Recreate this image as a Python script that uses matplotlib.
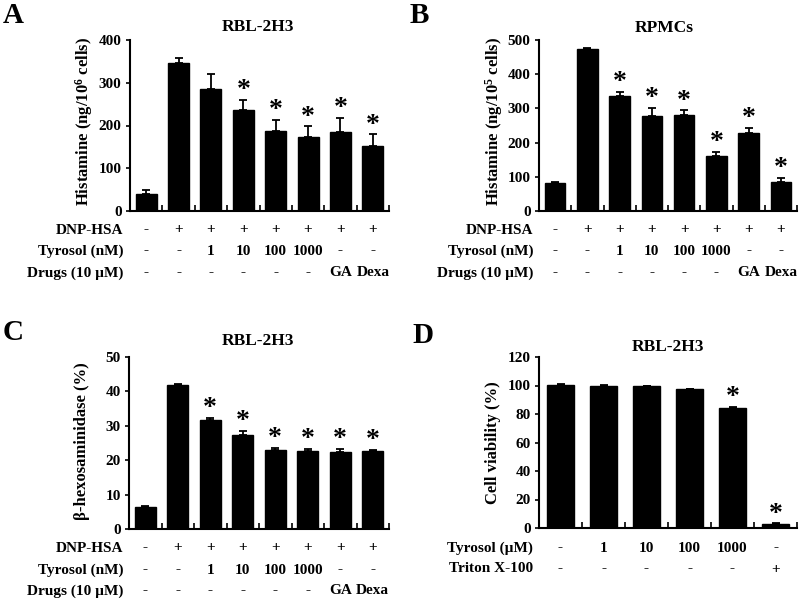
import matplotlib
matplotlib.use("Agg")
import matplotlib.pyplot as plt
import matplotlib.transforms as mtransforms
import numpy as np

plt.rcParams['font.family'] = ['Liberation Serif', 'DejaVu Serif']
plt.rcParams['font.weight'] = 'bold'
plt.rcParams['mathtext.fontset'] = 'custom'
plt.rcParams['mathtext.rm'] = 'Liberation Serif:bold'
plt.rcParams['mathtext.it'] = 'Liberation Serif:bold:italic'
plt.rcParams['mathtext.bf'] = 'Liberation Serif:bold'

# ---- data ----
A_vals = [39, 346, 285, 237, 188, 173, 184, 153]
A_err = [10, 11, 35, 22, 25, 25, 34, 26]
A_sig = [0, 0, 0, 1, 1, 1, 1, 1]

B_vals = [82, 474, 335, 279, 281, 160, 229, 86]
B_err = [2, 2, 13, 22, 13, 13, 14, 10]
B_sig = [0, 0, 1, 1, 1, 1, 1, 1]

C_vals = [6.4, 42.0, 31.6, 27.4, 23.1, 22.6, 22.4, 22.6]
C_err = [0.2, 0.2, 0.7, 1.2, 0.5, 0.8, 0.8, 0.3]
C_sig = [0, 0, 1, 1, 1, 1, 1, 1]

D_vals = [100.5, 99.8, 99.3, 97.5, 84.1, 3.1]
D_err = [0.4, 0.4, 0.5, 0.3, 0.7, 0.2]
D_sig = [0, 0, 0, 0, 1, 1]

dnp_row = ['-', '+', '+', '+', '+', '+', '+', '+']
tyr_nM_row = ['-', '-', '1', '10', '100', '1000', '-', '-']
drugs_row = ['-', '-', '-', '-', '-', '-', 'GA', 'Dexa']
tyr_uM_row = ['-', '1', '10', '100', '1000', '-']
triton_row = ['-', '-', '-', '-', '-', '+']

W, H = 800, 601
fig = plt.figure(figsize=(8, 6.01), dpi=100)


def px_axes(l, r, t, b):
    return fig.add_axes([l / W, 1 - b / H, (r - l) / W, (b - t) / H])


def fy(ypx):
    return 1 - ypx / H


def fx(xpx):
    return xpx / W


def panel(ax, vals, errs, sig, ymax, ystep, width, title, title_xy, ylabel,
          ylabel_xy, letter, letter_xy, rows, row_ys, label_right):
    n = len(vals)
    x = np.arange(n)
    ax.bar(x, vals, width=width, color='black', edgecolor='black', zorder=2)
    ax.errorbar(x, vals, yerr=[np.zeros(n), errs], fmt='none', ecolor='black',
                elinewidth=1.3, capsize=3, capthick=1.3, zorder=3)
    ax.set_xlim(-0.5, n - 0.5)
    ax.set_ylim(0, ymax)
    ax.set_yticks(np.arange(0, ymax + 0.001, ystep))
    ax.set_yticklabels([f"{int(v)}" for v in np.arange(0, ymax + 0.001, ystep)],
                       fontsize=11, fontweight='bold')
    ax.set_xticks(np.arange(-0.5, n, 1.0))
    ax.set_xticklabels([])
    ax.tick_params(axis='x', direction='in', length=4, width=1.2)
    ax.tick_params(axis='y', direction='out', length=3, width=1.2, pad=3)
    for s in ['top', 'right']:
        ax.spines[s].set_visible(False)
    for s in ['left', 'bottom']:
        ax.spines[s].set_linewidth(1.5)
    for i in range(n):
        if sig[i]:
            ax.annotate('*', xy=(x[i], vals[i] + errs[i]), xytext=(0, 2),
                        textcoords='offset points', ha='center', va='baseline',
                        fontsize=20, fontweight='bold')
    fig.text(fx(title_xy[0]), fy(title_xy[1]), title, ha='center', va='baseline',
             fontsize=12.5, fontweight='bold')
    fig.text(fx(ylabel_xy[0]), fy(ylabel_xy[1]), ylabel, ha='center', va='center',
             rotation=90, fontsize=12, fontweight='bold')
    fig.text(fx(letter_xy[0]), fy(letter_xy[1]), letter, ha='left', va='top',
             fontsize=21, fontweight='bold')
    trans = mtransforms.blended_transform_factory(ax.transData, fig.transFigure)
    for (lab, items), ry in zip(rows, row_ys):
        fig.text(fx(label_right), fy(ry), lab, ha='right', va='center',
                 fontsize=11, fontweight='bold')
        for i, it in enumerate(items):
            ax.text(x[i], fy(ry), it, transform=trans, ha='center', va='center',
                    fontsize=11, fontweight='bold')


axA = px_axes(130, 389, 40, 211)
panel(axA, A_vals, A_err, A_sig, 400, 100, 0.65, 'RBL-2H3', (258, 31),
      'Histamine (ng/10$^{6}$ cells)', (84, 121), 'A', (3, 2),
      [('DNP-HSA', dnp_row), ('Tyrosol (nM)', tyr_nM_row), ('Drugs (10 µM)', drugs_row)],
      [230, 251, 273], 123)

axB = px_axes(539, 797, 40, 211)
panel(axB, B_vals, B_err, B_sig, 500, 100, 0.63, 'RPMCs', (664, 32),
      'Histamine (ng/10$^{5}$ cells)', (494, 121), 'B', (410, 2),
      [('DNP-HSA', dnp_row), ('Tyrosol (nM)', tyr_nM_row), ('Drugs (10 µM)', drugs_row)],
      [230, 251, 273], 533)

axC = px_axes(129, 389, 357, 529)
panel(axC, C_vals, C_err, C_sig, 50, 10, 0.65, 'RBL-2H3', (258, 345),
      'β-hexosaminidase (%)', (82, 441), 'C', (3, 319),
      [('DNP-HSA', dnp_row), ('Tyrosol (nM)', tyr_nM_row), ('Drugs (10 µM)', drugs_row)],
      [548, 570, 591], 123)

axD = px_axes(539, 797, 357, 528)
panel(axD, D_vals, D_err, D_sig, 120, 20, 0.63, 'RBL-2H3', (668, 351),
      'Cell viability (%)', (493, 443), 'D', (412, 322),
      [('Tyrosol (µM)', tyr_uM_row), ('Triton X-100', triton_row)],
      [548, 569], 533)

fig.savefig('out.png', dpi=100)
